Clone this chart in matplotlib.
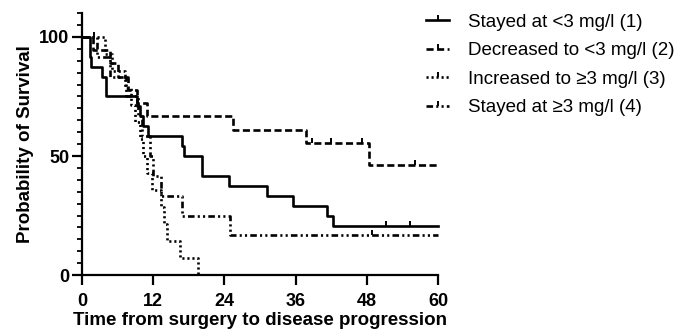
import matplotlib
matplotlib.use("Agg")
import matplotlib.pyplot as plt
from matplotlib.ticker import MultipleLocator

plt.rcParams['font.family'] = ['Liberation Sans', 'DejaVu Sans']

# Kaplan-Meier step data (time in months, survival in %)
t1 = [0, 1.3, 1.6, 3.3, 4.0, 9.2, 9.8, 10.3, 11.1, 16.8, 17.2, 20.3, 24.7, 31.2, 35.6, 41.3, 42.3, 60]
s1 = [100, 91.7, 87.5, 83.3, 75.0, 70.8, 66.7, 62.5, 58.3, 54.2, 50.0, 41.7, 37.5, 33.3, 29.2, 25.0, 20.8, 20.8]
c1_t = [51.3, 55.3]
c1_s = [20.8, 20.8]

t2 = [0, 1.9, 4.7, 6.0, 7.8, 9.2, 10.9, 25.4, 37.8, 48.4, 60]
s2 = [100, 94.4, 88.9, 83.3, 77.8, 72.2, 66.7, 61.1, 55.6, 46.3, 46.3]
c2_t = [38.7, 42.0, 47.2, 56.2]
c2_s = [55.6, 55.6, 55.6, 46.3]

t3 = [0, 3.9, 5.0, 7.2, 8.3, 9.0, 9.8, 10.3, 11.0, 11.8, 13.4, 13.8, 14.3, 16.5, 19.6]
s3 = [100, 92.9, 85.7, 78.6, 71.4, 64.3, 57.1, 50.0, 42.9, 35.7, 28.6, 21.4, 14.3, 7.1, 0]
c3_t = [2.0]
c3_s = [100]

t4 = [0, 2.5, 4.7, 7.5, 9.5, 10.2, 11.5, 12.0, 13.4, 16.8, 25.0, 60]
s4 = [100, 91.7, 83.3, 75.0, 66.7, 58.3, 50.0, 41.7, 33.3, 25.0, 16.7, 16.7]
c4_t = [48.9]
c4_s = [16.7]

labels = ["Stayed at <3 mg/l (1)", "Decreased to <3 mg/l (2)",
          "Increased to \u22653 mg/l (3)", "Stayed at \u22653 mg/l (4)"]
styles = ['-', (0, (2.7, 1.3)), (0, (0.8, 1.1)), (0, (2.5, 1.2, 0.8, 1.2, 0.8, 1.2))]

tick = [(0, 0), (0, 1)]  # upward censor tick

fig = plt.figure(figsize=(6.77, 3.29), dpi=100)
ax = fig.add_axes([0.121, 0.164, 0.526, 0.796])

groups = [(t1, s1, c1_t, c1_s), (t2, s2, c2_t, c2_s), (t3, s3, c3_t, c3_s), (t4, s4, c4_t, c4_s)]
handles = []
for (t, s, ct, cs), ls, lab in zip(groups, styles, labels):
    ax.step(t, s, where='post', color='black', lw=1.9, linestyle=ls, clip_on=False)
    ax.plot(ct, cs, linestyle='none', marker=tick, color='black', ms=7, mew=1.4, clip_on=False)
    h, = ax.plot([], [], color='black', lw=1.9, linestyle=ls, marker=tick, ms=7, mew=1.4, label=lab)
    handles.append(h)

ax.set_xlim(0, 60)
ax.set_ylim(0, 110)
ax.set_xticks([0, 12, 24, 36, 48, 60])
ax.set_yticks([0, 50, 100])
ax.yaxis.set_minor_locator(MultipleLocator(5))
for s in ['top', 'right']:
    ax.spines[s].set_visible(False)
for s in ['left', 'bottom']:
    ax.spines[s].set_linewidth(1.6)
ax.tick_params(which='major', length=7, width=1.6, labelsize=13)
ax.tick_params(axis='x', pad=6)
ax.tick_params(axis='y', pad=2)
ax.tick_params(which='minor', length=3.5, width=1.3)
for lbl in ax.get_xticklabels() + ax.get_yticklabels():
    lbl.set_fontweight('bold')

ax.set_xlabel("Time from surgery to disease progression", fontsize=13.5, fontweight='bold', va='top')
ax.xaxis.set_label_coords(0.5, -0.142)
ax.set_ylabel("Probability of Survival", fontsize=13.5, fontweight='bold', labelpad=4)

fig.legend(handles=handles, loc='upper left', bbox_to_anchor=(0.605, 1.009), frameon=False,
           fontsize=13.5, handlelength=1.2, handletextpad=1.0, labelspacing=0.6, numpoints=1)

fig.savefig("out.png", dpi=100)
